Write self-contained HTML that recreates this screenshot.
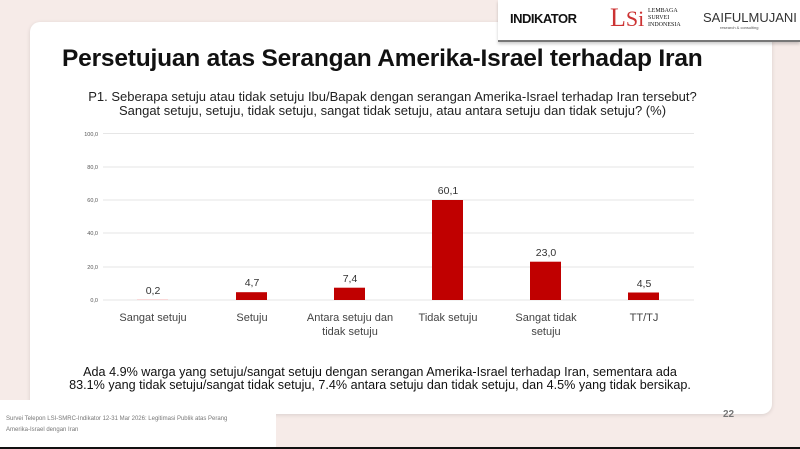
<!DOCTYPE html>
<html><head><meta charset="utf-8"><style>
body{margin:0;width:800px;height:449px;overflow:hidden;background:#f6ebe8;font-family:"Liberation Sans","DejaVu Sans",sans-serif;position:relative}
.card{position:absolute;left:30px;top:22px;width:742px;height:392px;background:#fff;border-radius:10px;box-shadow:0 1px 4px rgba(0,0,0,.12)}
.logo{position:absolute;left:498px;top:0;width:302px;height:40px;background:#fff;border-bottom:2px solid #777;box-shadow:0 2px 3px rgba(0,0,0,.2)}
.t{position:absolute;white-space:nowrap;color:#111}
</style></head><body>
<div class="card"></div>
<div class="logo">
<div class="t" style="left:12px;top:11px;font-weight:bold;font-size:13px;letter-spacing:-0.5px">INDIKATOR</div>
<div class="t" style="left:112px;top:3px;font-size:26px;color:#c33;font-family:'Liberation Serif'">L<span style="font-size:22px">Si</span></div>
<div class="t" style="left:150px;top:8px;font-size:6px;line-height:7px;font-family:'Liberation Serif'">LEMBAGA<br>SURVEI<br>INDONESIA</div>
<div class="t" style="left:205px;top:10px;font-size:13px;color:#333">SAIFULMUJANI</div>
<div class="t" style="left:222px;top:25px;font-size:4px;color:#555">research &amp; consulting</div>
</div>
<div class="t" style="left:62px;top:45px;font-size:24.5px;font-weight:bold;letter-spacing:-0.2px">Persetujuan atas Serangan Amerika-Israel terhadap Iran</div>
<div class="t" style="left:0;width:785px;top:90px;text-align:center;font-size:13px;line-height:13.5px;color:#222">P1. Seberapa setuju atau tidak setuju Ibu/Bapak dengan serangan Amerika-Israel terhadap Iran tersebut?<br>Sangat setuju, setuju, tidak setuju, sangat tidak setuju, atau antara setuju dan tidak setuju? (%)</div>
<svg style="position:absolute;left:0;top:0" width="800" height="449">
<g stroke="#e6e6e6" stroke-width="1">
<line x1="103" x2="694" y1="133.5" y2="133.5"/><line x1="103" x2="694" y1="167" y2="167"/><line x1="103" x2="694" y1="200" y2="200"/><line x1="103" x2="694" y1="233" y2="233"/><line x1="103" x2="694" y1="267" y2="267"/><line x1="103" x2="694" y1="300" y2="300"/>
</g>
<g font-size="5.5" fill="#555" text-anchor="end" font-family="Liberation Sans">
<text x="98" y="136">100,0</text><text x="98" y="169">80,0</text><text x="98" y="202">60,0</text><text x="98" y="235">40,0</text><text x="98" y="269">20,0</text><text x="98" y="302">0,0</text>
</g>
<g fill="#c00000">
<rect x="137" y="299.5" width="31" height="0.5" fill="#f3b0b0"/>
<rect x="236" y="292.2" width="31" height="7.8"/>
<rect x="334" y="287.7" width="31" height="12.3"/>
<rect x="432" y="200" width="31" height="100"/>
<rect x="530" y="261.7" width="31" height="38.3"/>
<rect x="628" y="292.5" width="31" height="7.5"/>
</g>
<g font-size="10.5" fill="#333" text-anchor="middle" font-family="Liberation Sans">
<text x="153" y="294">0,2</text><text x="252" y="286">4,7</text><text x="350" y="282">7,4</text><text x="448" y="194">60,1</text><text x="546" y="256">23,0</text><text x="644" y="287">4,5</text>
</g>
<g font-size="11" fill="#444" text-anchor="middle" font-family="Liberation Sans">
<text x="153" y="321">Sangat setuju</text><text x="252" y="321">Setuju</text>
<text x="350" y="321">Antara setuju dan</text><text x="350" y="335">tidak setuju</text>
<text x="448" y="321">Tidak setuju</text>
<text x="546" y="321">Sangat tidak</text><text x="546" y="335">setuju</text>
<text x="644" y="321">TT/TJ</text>
</g>
</svg>
<div class="t" style="left:0;width:760px;top:366px;text-align:center;font-size:12.6px;line-height:13px">Ada 4.9% warga yang setuju/sangat setuju dengan serangan Amerika-Israel terhadap Iran, sementara ada<br>83.1% yang tidak setuju/sangat tidak setuju, 7.4% antara setuju dan tidak setuju, dan 4.5% yang tidak bersikap.</div>
<div class="t" style="left:723px;top:409px;font-size:10px;font-weight:bold;color:#777">22</div>
<div style="position:absolute;left:0;top:400px;width:276px;height:47px;background:#fff"></div>
<div class="t" style="left:6px;top:414px;font-size:6px;line-height:11px;color:#777">Survei Telepon LSI-SMRC-Indikator 12-31 Mar 2026: Legitimasi Publik atas Perang<br>Amerika-Israel dengan Iran</div>
<div style="position:absolute;left:0;top:447px;width:800px;height:2px;background:#111"></div>
</body></html>
